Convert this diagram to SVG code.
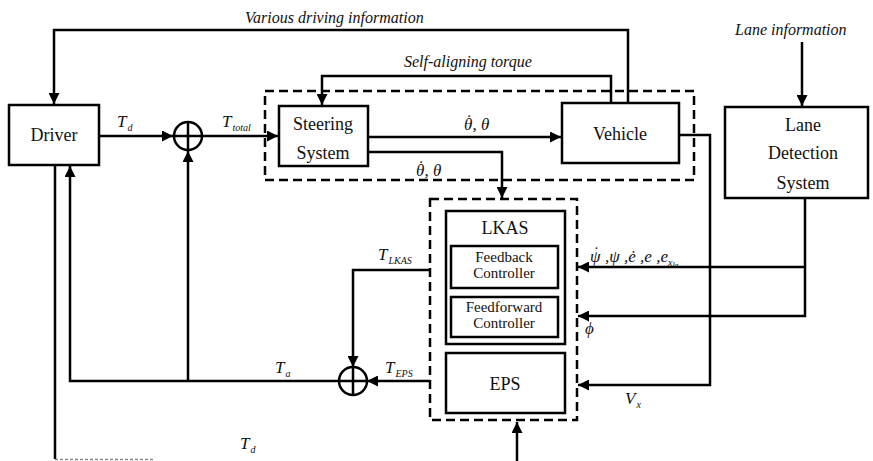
<svg xmlns="http://www.w3.org/2000/svg" width="873" height="461" viewBox="0 0 873 461">
<style>
.box{fill:#fff;stroke:#000;stroke-width:2.5}
.dash{fill:none;stroke:#000;stroke-width:2.5;stroke-dasharray:9,5}
.ln{fill:none;stroke:#000;stroke-width:2.5}
.t{font-family:'Liberation Serif','DejaVu Serif',serif;font-size:18px;text-anchor:middle;fill:#111}
.s{font-family:'Liberation Serif','DejaVu Serif',serif;font-size:15px;text-anchor:middle;fill:#111}
.i{font-family:'Liberation Serif','DejaVu Serif',serif;font-style:italic;font-size:16px;fill:#111}
.m{font-family:'Liberation Serif','DejaVu Serif',serif;font-style:italic;font-size:17px;fill:#111}
.sub{font-size:10px}
</style>
<defs>
<marker id="ar" viewBox="0 0 10 10" refX="10" refY="5" markerWidth="4.4" markerHeight="4.4" orient="auto" markerUnits="strokeWidth">
<path d="M0,0 L10,5 L0,10 z" fill="#000"/>
</marker>
</defs>

<g id="connectors">
<path class="ln" d="M628,103 V30 H54 V104" marker-end="url(#ar)"/>
<path class="ln" d="M611,103 V76 H322 V105" marker-end="url(#ar)"/>
<path class="ln" d="M99,136 H173" marker-end="url(#ar)"/>
<path class="ln" d="M202,136 H278" marker-end="url(#ar)"/>
<path class="ln" d="M368,137 H561" marker-end="url(#ar)"/>
<path class="ln" d="M368,152 H502 V198" marker-end="url(#ar)"/>
<path class="ln" d="M802,42 V106" marker-end="url(#ar)"/>
<path class="ln" d="M679,135 H710 V385 H578" marker-end="url(#ar)"/>
<path class="ln" d="M805,198 V316 H578" marker-end="url(#ar)"/>
<path class="ln" d="M805,267 H578" marker-end="url(#ar)"/>
<path class="ln" d="M430,270 H353 V367" marker-end="url(#ar)"/>
<path class="ln" d="M430,381 H367" marker-end="url(#ar)"/>
<path class="ln" d="M339,381 H70 V166" marker-end="url(#ar)"/>
<path class="ln" d="M188,381 V151" marker-end="url(#ar)"/>
<path class="ln" d="M55,165 V459"/>
<path d="M55,459.5 H155" fill="none" stroke="#888" stroke-width="1.5" stroke-dasharray="3,2"/>
<path class="ln" d="M517,461 V422" marker-end="url(#ar)"/>
</g>

<g id="sum1">
<circle cx="188" cy="136" r="14" fill="none" stroke="#000" stroke-width="2.5"/>
<path class="ln" d="M174,136 H202 M188,122 V150" stroke-width="1.8"/>
</g>
<g id="sum2">
<circle cx="353" cy="381" r="14" fill="none" stroke="#000" stroke-width="2.5"/>
<path class="ln" d="M339,381 H367 M353,367 V395" stroke-width="1.8"/>
</g>

<g id="group-steer-vehicle">
<rect class="dash" x="265" y="91" width="429" height="89"/>
</g>
<g id="group-lkas-eps">
<rect class="dash" x="430" y="199" width="147" height="221"/>
</g>

<g id="driver">
<rect class="box" x="9" y="105" width="90" height="60"/>
<text class="t" x="54" y="141">Driver</text>
</g>
<g id="steering">
<rect class="box" x="279" y="106" width="89" height="60"/>
<text class="t" x="323" y="130">Steering</text>
<text class="t" x="323" y="159">System</text>
</g>
<g id="vehicle">
<rect class="box" x="562" y="103" width="117" height="60"/>
<text class="t" x="620" y="140">Vehicle</text>
</g>
<g id="lane-detection">
<rect class="box" x="725" y="107" width="143" height="91"/>
<text class="t" x="803" y="131">Lane</text>
<text class="t" x="803" y="159">Detection</text>
<text class="t" x="803" y="189">System</text>
</g>
<g id="lkas">
<rect class="box" x="446" y="211" width="119" height="133"/>
<text class="t" x="505" y="234">LKAS</text>
</g>
<g id="feedback">
<rect class="box" x="451" y="246" width="107" height="42" stroke-width="3"/>
<text class="s" x="504" y="262">Feedback</text>
<text class="s" x="504" y="278">Controller</text>
</g>
<g id="feedforward">
<rect class="box" x="451" y="297" width="107" height="40" stroke-width="3"/>
<text class="s" x="504" y="312">Feedforward</text>
<text class="s" x="504" y="328">Controller</text>
</g>
<g id="eps">
<rect class="box" x="446" y="353" width="119" height="60"/>
<text class="t" x="505" y="390">EPS</text>
</g>

<g id="labels">
<text class="i" x="245" y="23">Various driving information</text>
<text class="i" x="404" y="67" font-size="15">Self-aligning torque</text>
<text class="i" x="735" y="35" font-size="15">Lane information</text>
<text class="m" x="117" y="127">T<tspan class="sub" dx="1" dy="4">d</tspan></text>
<text class="m" x="222" y="127">T<tspan class="sub" dx="1" dy="4">total</tspan></text>
<text class="m" x="464" y="130">θ<tspan dx="-7" dy="-4">˙</tspan><tspan dx="1.5" dy="4">, θ</tspan></text>
<text class="m" x="416" y="176">θ<tspan dx="-7" dy="-4">˙</tspan><tspan dx="1.5" dy="4">, θ</tspan></text>
<text class="m" x="378" y="260">T<tspan class="sub" dx="1" dy="4">LKAS</tspan></text>
<text class="m" x="275" y="373">T<tspan class="sub" dx="1" dy="4">a</tspan></text>
<text class="m" x="385" y="373">T<tspan class="sub" dx="1" dy="4">EPS</tspan></text>
<text class="m" x="240" y="449">T<tspan class="sub" dx="1" dy="4">d</tspan></text>
<text class="m" x="590" y="262">ψ<tspan dx="-8" dy="-4">˙</tspan><tspan dx="2.5" dy="4"> ,ψ ,ė ,e ,e</tspan><tspan class="sub" dy="4">x</tspan><tspan font-size="8" dy="2">la</tspan></text>
<text class="m" x="585" y="334">ϕ</text>
<text class="m" x="625" y="404">V<tspan class="sub" dx="1" dy="4">x</tspan></text>
</g>
</svg>
